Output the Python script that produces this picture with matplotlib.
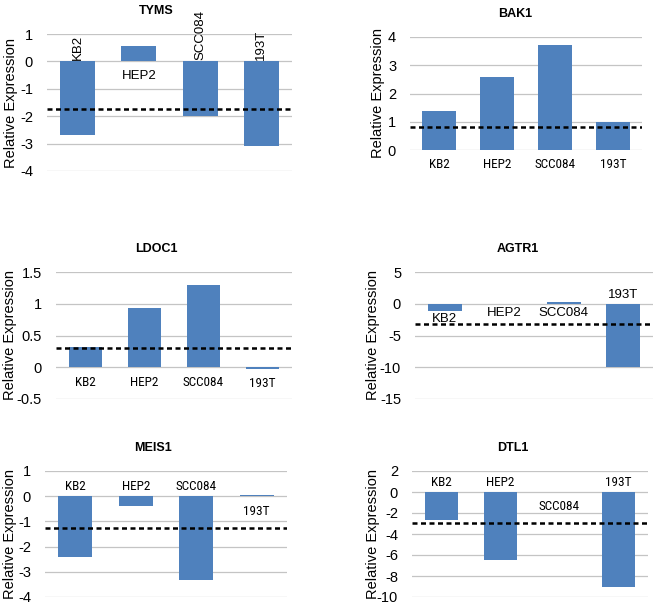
import matplotlib
matplotlib.use('Agg')
import matplotlib.pyplot as plt
from matplotlib import font_manager

plt.rcParams['font.family'] = ['Liberation Sans', 'DejaVu Sans']

# cell lines and genes
lines = ['KB2', 'HEP2', 'SCC084', '193T']

tyms = [-2.7, 0.57, -1.98, -3.08]
bak1 = [1.38, 2.6, 3.72, 0.98]
ldoc1 = [0.32, 0.94, 1.29, -0.02]
agtr1 = [-1.2, -0.1, 0.2, -10.0]
meis1 = [-2.4, -0.4, -3.32, 0.05]
dtl1 = [-2.63, -6.5, 0.0, -9.05]

# dashed threshold per gene
cutoff = {'TYMS': -1.72, 'BAK1': 0.81, 'LDOC1': 0.3, 'AGTR1': -3.2,
          'MEIS1': -1.25, 'DTL1': -2.95}

yticks = {'TYMS': [1, 0, -1, -2, -3, -4],
          'BAK1': [0, 1, 2, 3, 4],
          'LDOC1': [1.5, 1, 0.5, 0, -0.5],
          'AGTR1': [5, 0, -5, -10, -15],
          'MEIS1': [1, 0, -1, -2, -3, -4],
          'DTL1': [2, 0, -2, -4, -6, -8, -10]}

# where the category names sit
label_side = {'TYMS': ['rot', 'down', 'rot', 'rot'],
              'BAK1': ['down'] * 4,
              'LDOC1': ['down'] * 4,
              'AGTR1': ['barbot', 'down2', 'down2', 'up'],
              'MEIS1': ['up', 'up', 'up', 'down'],
              'DTL1': ['up', 'up', 'down', 'up']}

# look for a condensed face for the narrow labels
narrow_fam, narrow_stretch, narrow_size = ['Liberation Sans'], 'normal', 8
names = {f.name: f for f in font_manager.fontManager.ttflist}
for cand in ['Liberation Sans Narrow', 'Roboto Condensed', 'Open Sans Condensed',
             'Noto Sans Condensed', 'DejaVu Sans Condensed']:
    if cand in names:
        narrow_fam, narrow_size = [cand], 9.5
        break
else:
    for f in font_manager.fontManager.ttflist:
        if 'condensed' in str(f.stretch) and f.style == 'normal' and f.weight in (400, 'normal'):
            narrow_fam, narrow_stretch, narrow_size = [f.name], f.stretch, 9.5
            break

W, H = 658, 608
fig = plt.figure(figsize=(W / 100, H / 100), dpi=100)

# pixel boxes: left, right, top, bottom ; title x ; ylabel x
panels = [
    ('TYMS', tyms, (47, 292, 34, 171), 156, 11, 'arial'),
    ('BAK1', bak1, (410, 642, 37, 150), 515, 378, 'narrow'),
    ('LDOC1', ldoc1, (56, 292, 272, 399), 156, 10, 'narrow'),
    ('AGTR1', agtr1, (415, 653, 272, 399), 518, 373, 'arial'),
    ('MEIS1', meis1, (45, 287, 471, 597), 153, 10, 'narrow'),
    ('DTL1', dtl1, (412, 648, 471, 597), 513, 373, 'narrow'),
]

for name, vals, (l, r, t, b), tx, lx, lab_font in panels:
    ax = fig.add_axes([l / W, (H - b) / H, (r - l) / W, (b - t) / H])
    x = list(range(len(lines)))
    ax.bar(x, vals, width=0.57, color='#4f81bd', zorder=2)
    ax.axhline(cutoff[name], color='black', lw=1.8, ls=(0, (2, 1.4)), zorder=3)
    ticks = yticks[name]
    ax.set_ylim(min(ticks), max(ticks))
    ax.set_xlim(-0.5, 3.5)
    ax.set_yticks(ticks)
    ax.set_yticklabels([('%g' % v) for v in ticks])
    ax.set_xticks([])
    ax.grid(axis='y', color='#c4c4c4', lw=0.9, zorder=1)
    for s in ax.spines.values():
        s.set_visible(False)
    ax.tick_params(axis='y', length=0, pad=10, labelsize=10.5)
    ax.set_ylabel('Relative Expression', fontsize=10.5, va='center')
    ax.yaxis.set_label_coords((lx - l) / (r - l), 0.5)
    ax.text((tx - l) / (r - l), 1 + 23 / (b - t), name, transform=ax.transAxes,
            ha='center', va='center', fontsize=9, fontweight='bold')

    if lab_font == 'narrow':
        kw = dict(family=narrow_fam + ['DejaVu Sans'], fontstretch=narrow_stretch,
                  fontsize=narrow_size)
    else:
        kw = dict(family=['Liberation Sans', 'DejaVu Sans'], fontsize=9.5)
    for i, (lab, side) in enumerate(zip(lines, label_side[name])):
        if side == 'rot':
            ax.annotate(lab, (i, 0), xytext=(0, 1), textcoords='offset points',
                        rotation=90, ha='center', va='bottom', **kw)
        elif side == 'up':
            ax.annotate(lab, (i, 0), xytext=(0, 2), textcoords='offset points',
                        ha='center', va='bottom', **kw)
        elif side == 'barbot':
            ax.annotate(lab, (i, vals[i]), xytext=(0, -1), textcoords='offset points',
                        ha='center', va='top', **kw)
        elif side == 'down2':
            ax.annotate(lab, (i, min(vals[i], 0)), xytext=(0, -2), textcoords='offset points',
                        ha='center', va='top', **kw)
        else:
            ax.annotate(lab, (i, min(vals[i], 0)), xytext=(0, -6), textcoords='offset points',
                        ha='center', va='top', **kw)

fig.savefig('out.png', dpi=100)
